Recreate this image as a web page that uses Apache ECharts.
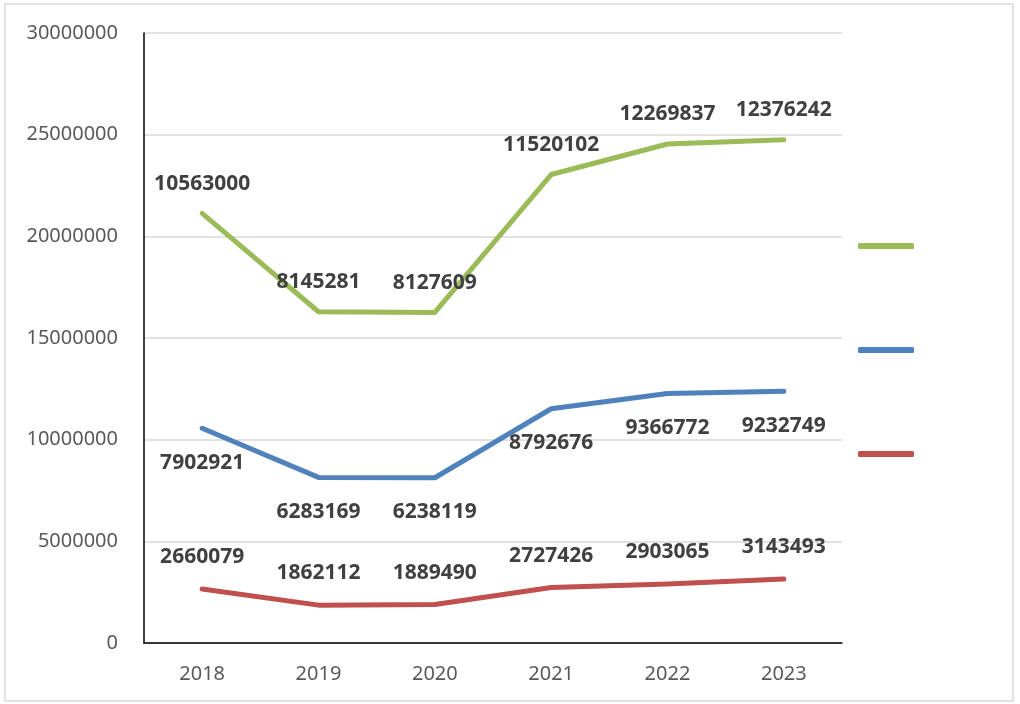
<!DOCTYPE html>
<html><head><meta charset="utf-8">
<script src="https://cdn.jsdelivr.net/npm/echarts@6/dist/echarts.min.js"></script>
<style>html,body{margin:0;padding:0;background:#fff}#c{width:1020px;height:704px}</style>
</head><body><div id="c"></div>
<script>
const categories = ['2018','2019','2020','2021','2022','2023'];
const redValues = [2660079, 1862112, 1889490, 2727426, 2903065, 3143493];
const blueValues = [7902921, 6283169, 6238119, 8792676, 9366772, 9232749];
const greenValues = [10563000, 8145281, 8127609, 11520102, 12269837, 12376242];
const seriesNames = ['Series 3', 'Series 2', 'Series 1'];

const font = '"Noto Sans", "Open Sans", sans-serif';
function mk(name, data, color, pos, dist) {
  return {
    name: name, type: 'line', stack: 'total', data: data,
    symbol: 'circle', symbolSize: 0.5, showSymbol: true, smooth: false,
    lineStyle: { color: color, width: 5, cap: 'round', join: 'round' },
    itemStyle: { color: color },
    label: { show: true, position: pos, distance: dist, color: '#404040',
      fontFamily: font, fontWeight: 'bold', fontSize: 21 }
  };
}
const chart = echarts.init(document.getElementById('c'));
chart.setOption({
  animation: false,
  backgroundColor: '#fff',
  graphic: [{ type: 'rect', shape: { x: 5, y: 4, width: 1008, height: 697 },
    style: { fill: 'none', stroke: '#d9d9d9', lineWidth: 1.5 }, z: -1 }],
  grid: { left: 144, right: 178, top: 33, bottom: 61 },
  legend: {
    orient: 'vertical', right: 101, top: 238, itemWidth: 56, itemHeight: 6, itemGap: 98,
    icon: 'roundRect', formatter: function(){ return ''; },
    data: [seriesNames[0], seriesNames[1], seriesNames[2]]
  },
  xAxis: {
    type: 'category', data: categories, boundaryGap: true,
    axisLine: { lineStyle: { color: '#000', width: 1.5 } },
    axisTick: { show: false },
    axisLabel: { color: '#595959', fontSize: 20, fontFamily: font, margin: 21 }
  },
  yAxis: {
    type: 'value', min: 0, max: 30000000, interval: 5000000,
    axisLine: { show: true, lineStyle: { color: '#000', width: 1.5 } },
    axisTick: { show: false },
    splitLine: { lineStyle: { color: '#d9d9d9', width: 1.5 } },
    axisLabel: { color: '#595959', fontSize: 20, fontFamily: font, margin: 26,
      formatter: function(v){ return String(v); } }
  },
  series: [
    mk(seriesNames[2], redValues, '#C0504D', 'top', 21),
    mk(seriesNames[1], blueValues, '#4F81BD', 'bottom', 24),
    mk(seriesNames[0], greenValues, '#9BBB59', 'top', 19)
  ]
});
</script></body></html>
